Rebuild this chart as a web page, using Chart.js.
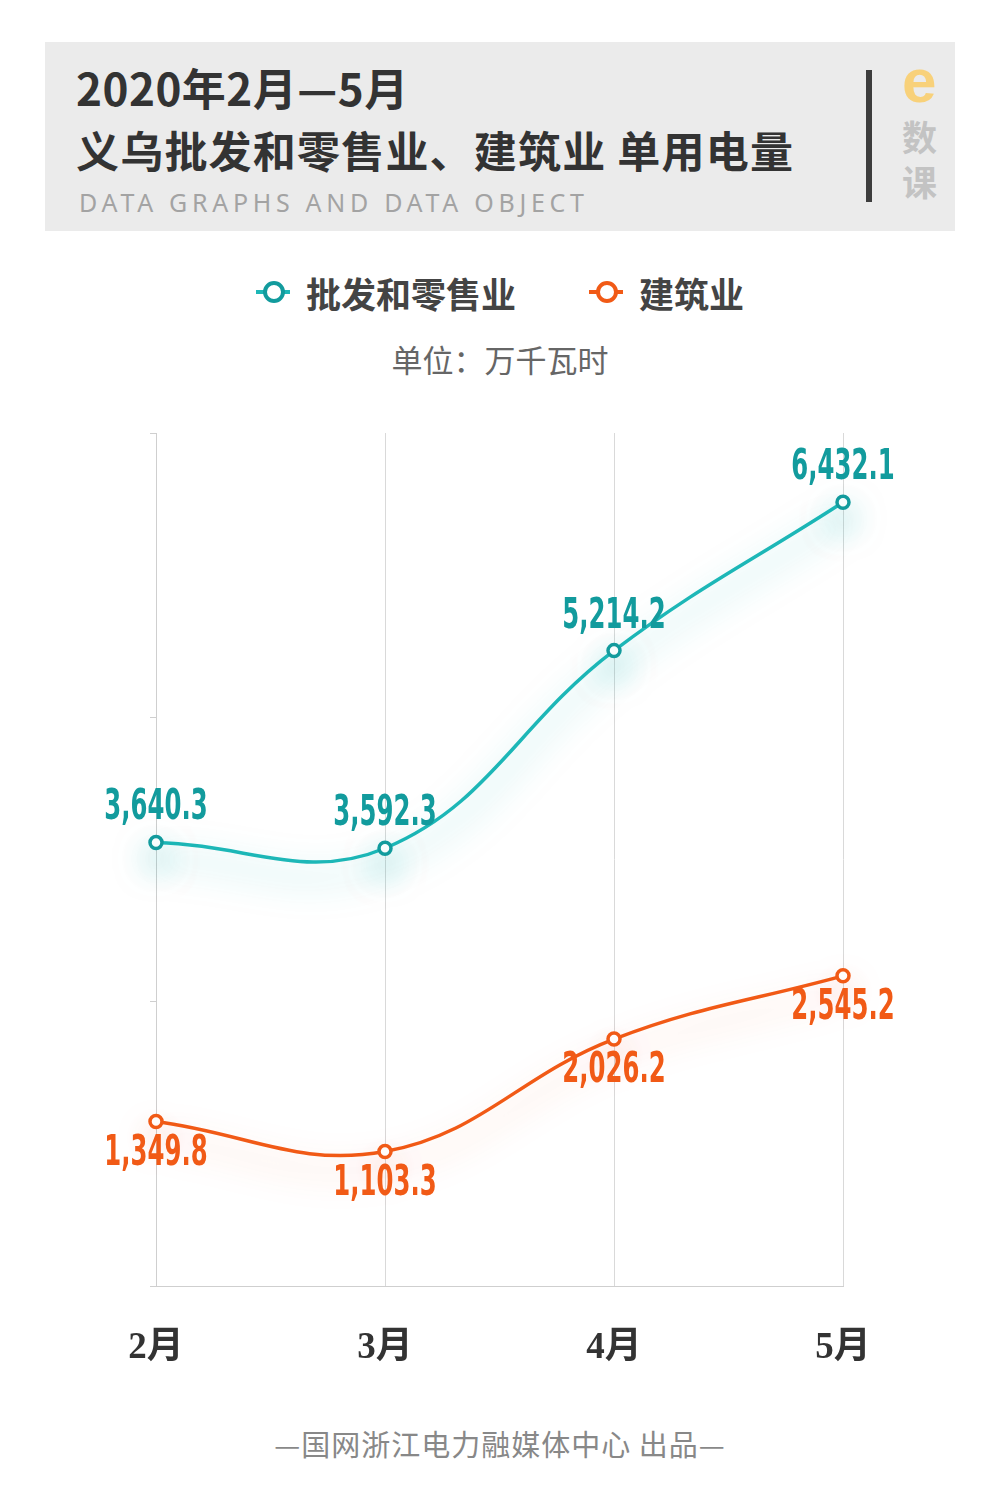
<!DOCTYPE html>
<html>
<head>
<meta charset="utf-8">
<script src="https://cdn.jsdelivr.net/npm/chart.js@4.4.1/dist/chart.umd.min.js"></script>
<style>
  body { margin: 0; background: #fff; font-family: "Noto Sans CJK SC", sans-serif; }
  #page { position: relative; width: 1000px; height: 1500px; overflow: hidden; }
  #header { position: absolute; left: 45px; top: 42px; width: 910px; height: 189px; background: #ebebeb; }
  .t1 { position: absolute; left: 31px; top: 17px; font-size: 44px; font-weight: 700; color: #333; line-height: 56px; letter-spacing: 0.5px; }
  .t2 { position: absolute; left: 31px; top: 79px; font-size: 43px; font-weight: 700; color: #333; line-height: 56px; letter-spacing: 1.2px; }
  .t3 { position: absolute; left: 34px; top: 142px; font-family: "Noto Sans", sans-serif; font-size: 25px; color: #a3a3a3; letter-spacing: 4.7px; line-height: 36px; }
  .bar { position: absolute; left: 821px; top: 28px; width: 6px; height: 132px; background: #3d3d3d; }
  .e { position: absolute; left: 857px; top: 4px; font-family: "Liberation Sans", sans-serif; font-size: 62px; font-weight: 700; color: #f8d17a; line-height: 70px; }
  .k { position: absolute; left: 857px; font-size: 35px; font-weight: 700; color: #c3c3c3; line-height: 40px; }
  #legend { position: absolute; top: 265px; left: 0; width: 1000px; height: 54px; }
  .lg { position: absolute; top: 0; height: 54px; display: flex; align-items: center; font-size: 35px; font-weight: 700; color: #444; }
  .mk { position: relative; width: 34px; height: 20px; margin-right: 16px; }
  .mk .ln { position: absolute; left: 0; top: 8px; width: 34px; height: 4px; }
  .mk .dot { position: absolute; left: 7px; top: -1px; width: 14px; height: 14px; border-radius: 50%; background: #fff; border-width: 4px; border-style: solid; }
  #unit { position: absolute; top: 337px; left: 0; width: 1000px; text-align: center; font-size: 31px; color: #666; line-height: 44px; }
  #wrap { position: absolute; left: 0; top: 400px; width: 1000px; height: 1000px; }
  #footer { position: absolute; top: 1423px; left: 0; width: 1000px; text-align: center; font-size: 29px; color: #888; line-height: 40px; letter-spacing: 1px; }
</style>
</head>
<body>
<div id="page">
  <div id="header">
    <div class="t1">2020年2月—5月</div>
    <div class="t2">义乌批发和零售业、建筑业 单用电量</div>
    <div class="t3">DATA GRAPHS AND DATA OBJECT</div>
    <div class="bar"></div>
    <div class="e">e</div>
    <div class="k" style="top:74px">数</div>
    <div class="k" style="top:119px">课</div>
  </div>
  <div id="legend"></div>
  <div id="unit">单位：万千瓦时</div>
  <div id="wrap"><canvas id="chart"></canvas></div>
  <div id="footer">—国网浙江电力融媒体中心 出品—</div>
</div>
<script>
const months = ['2月', '3月', '4月', '5月'];
const seriesNames = ['批发和零售业', '建筑业'];
const retail = [3640.3, 3592.3, 5214.2, 6432.1];
const construction = [1349.8, 1103.3, 2026.2, 2545.2];
const yMin = 0;
const yMax = 7000;

const teal = '#1db7b7';
const tealDark = '#129b9d';
const orange = '#f15a16';

// legend in html, from the series names
const legendPos = [256, 589];
const legendCol = [[teal, tealDark], [orange, orange]];
seriesNames.forEach((name, i) => {
  const el = document.createElement('div');
  el.className = 'lg';
  el.style.left = legendPos[i] + 'px';
  el.innerHTML = `<div class="mk"><div class="ln" style="background:${legendCol[i][0]}"></div>` +
    `<div class="dot" style="border-color:${legendCol[i][1]}"></div></div>${name}`;
  document.getElementById('legend').appendChild(el);
});

// soft coloured glow under each line
const glow = {
  id: 'glow',
  beforeDatasetDraw(chart, args) {
    const ds = chart.data.datasets[args.index];
    const ctx = chart.ctx;
    ctx.save();
    ctx.shadowColor = ds.glowColor;
    ctx.shadowBlur = 34;
    ctx.shadowOffsetY = 16;
  },
  afterDatasetDraw(chart) {
    chart.ctx.restore();
  }
};

// value labels, squeezed sideways for a condensed look
const valueLabels = {
  id: 'valueLabels',
  afterDatasetsDraw(chart) {
    const ctx = chart.ctx;
    chart.data.datasets.forEach((ds, i) => {
      const meta = chart.getDatasetMeta(i);
      meta.data.forEach((pt, j) => {
        const text = ds.data[j].toLocaleString('en-US', { minimumFractionDigits: 1, maximumFractionDigits: 1 });
        ctx.save();
        ctx.font = 'bold 43px "DejaVu Sans Condensed", sans-serif';
        ctx.fillStyle = ds.labelColor;
        ctx.textAlign = 'center';
        ctx.textBaseline = 'alphabetic';
        const y = ds.labelAbove ? pt.y - 23 : pt.y + 43;
        ctx.translate(pt.x, y);
        ctx.scale(0.63, 1);
        ctx.fillText(text, 0, 0);
        ctx.restore();
      });
    });
  }
};

new Chart(document.getElementById('chart'), {
  type: 'line',
  data: {
    labels: months,
    datasets: [
      {
        label: seriesNames[0],
        data: retail,
        borderColor: teal,
        borderWidth: 3.5,
        pointRadius: 6,
        pointBorderWidth: 3.5,
        pointBorderColor: tealDark,
        pointBackgroundColor: '#fff',
        tension: 0.4,
        clip: false,
        glowColor: 'rgba(29,183,183,0.65)',
        labelColor: tealDark,
        labelAbove: true
      },
      {
        label: seriesNames[1],
        data: construction,
        borderColor: orange,
        borderWidth: 3.5,
        pointRadius: 6,
        pointBorderWidth: 3.5,
        pointBorderColor: orange,
        pointBackgroundColor: '#fff',
        tension: 0.4,
        clip: false,
        glowColor: 'rgba(241,90,22,0.38)',
        labelColor: orange,
        labelAbove: false
      }
    ]
  },
  options: {
    responsive: true,
    maintainAspectRatio: false,
    animation: false,
    layout: { padding: { top: 33, left: 136, right: 157, bottom: 0 } },
    plugins: { legend: { display: false }, tooltip: { enabled: false } },
    scales: {
      x: {
        grid: { color: '#d9d9d9', drawTicks: false },
        border: { color: '#cfcfcf' },
        ticks: {
          padding: 40,
          color: '#333',
          font: { family: '"Liberation Serif", "Noto Sans CJK SC", serif', size: 37, weight: 'bold' }
        },
        afterFit(scale) { scale.height = 114; }
      },
      y: {
        min: yMin,
        max: yMax,
        ticks: { display: false, stepSize: (yMax - yMin) / 3 },
        grid: { drawOnChartArea: false, drawTicks: true, tickLength: 6, color: '#cfcfcf' },
        border: { color: '#cfcfcf' },
        afterFit(scale) { scale.width = 20; }
      }
    }
  },
  plugins: [glow, valueLabels]
});
</script>
</body>
</html>
